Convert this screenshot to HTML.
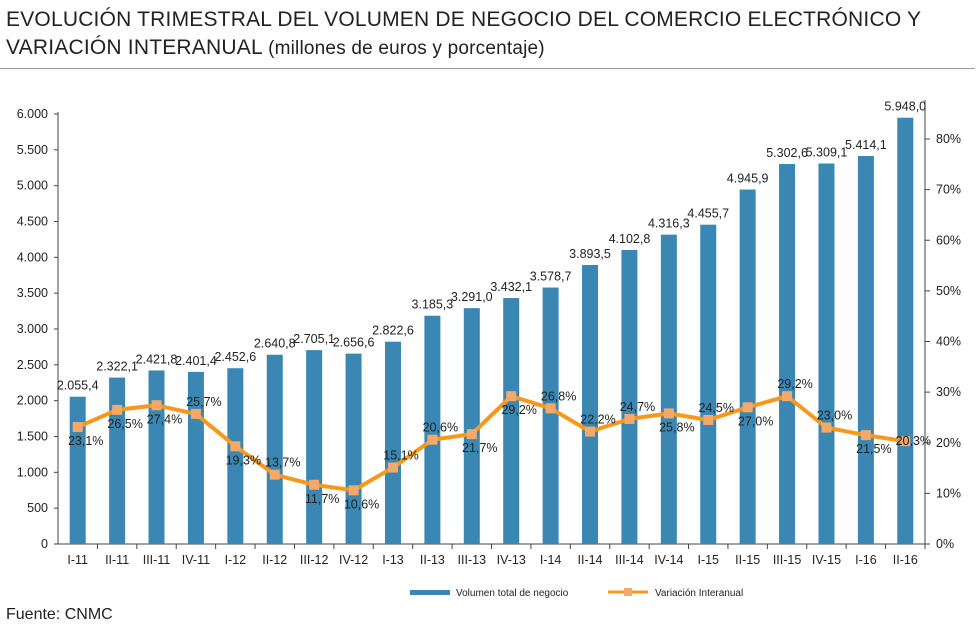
<!DOCTYPE html>
<html><head><meta charset="utf-8"><style>
body{margin:0;background:#fff;font-family:"Liberation Sans",Arial,sans-serif;}
#wrap{position:relative;width:980px;height:631px;overflow:hidden}
.title{position:absolute;left:6px;top:6px;font-size:21px;line-height:28px;color:#222;letter-spacing:0.2px}
.rule{position:absolute;left:0;top:68px;width:975px;height:1px;background:#999}
.src{position:absolute;left:6px;top:606px;font-size:16px;color:#222}
svg text{font-family:"Liberation Sans",Arial,sans-serif}
</style></head><body><div id="wrap">
<div class="title">EVOLUCIÓN TRIMESTRAL DEL VOLUMEN DE NEGOCIO DEL COMERCIO ELECTRÓNICO Y<br>VARIACIÓN INTERANUAL <span style="font-size:19px">(millones de euros y porcentaje)</span></div>
<div class="rule"></div>
<svg id="chart" width="980" height="631" style="position:absolute;left:0;top:0"></svg>
<div class="src">Fuente: CNMC</div>
</div>
<script>
const categories=["I-11","II-11","III-11","IV-11","I-12","II-12","III-12","IV-12","I-13","II-13","III-13","IV-13","I-14","II-14","III-14","IV-14","I-15","II-15","III-15","IV-15","I-16","II-16"];
const volume=[2055.4,2322.1,2421.8,2401.4,2452.6,2640.8,2705.1,2656.6,2822.6,3185.3,3291.0,3432.1,3578.7,3893.5,4102.8,4316.3,4455.7,4945.9,5302.6,5309.1,5414.1,5948.0];
const variation=[23.1,26.5,27.4,25.7,19.3,13.7,11.7,10.6,15.1,20.6,21.7,29.2,26.8,22.2,24.7,25.8,24.5,27.0,29.2,23.0,21.5,20.3];
const leftTicks=[0,500,1000,1500,2000,2500,3000,3500,4000,4500,5000,5500,6000];
const rightTicks=[0,10,20,30,40,50,60,70,80];
const svg=document.getElementById('chart');const NS='http://www.w3.org/2000/svg';
const X0=58,X1=925,Y0=544,YT=114;
const step=(X1-X0)/categories.length;
const xc=i=>X0+step*(i+0.5);
const yL=v=>Y0-(v/6000)*(Y0-YT);
const yR=v=>Y0-v*(Y0-139)/80;
const fmt=(v,d)=>{let s=v.toFixed(d).replace('.',',');let [a,b]=s.split(',');a=a.replace(/\B(?=(\d{3})+(?!\d))/g,'.');return b!==undefined?a+','+b:a;};
function mk(t,a,txt){const e=document.createElementNS(NS,t);for(const k in a)e.setAttribute(k,a[k]);if(txt!==undefined)e.textContent=txt;svg.appendChild(e);return e;}
// axes
let e=mk('line',{x1:X0,y1:YT-2,x2:X0,y2:Y0,stroke:'#444'});

e=mk('line',{x1:X1,y1:100,x2:X1,y2:Y0,stroke:'#444'});

e=mk('line',{x1:X0,y1:Y0,x2:X1,y2:Y0,stroke:'#444'});

leftTicks.forEach(v=>{mk('line',{x1:X0-4,x2:X0,y1:yL(v),y2:yL(v),stroke:'#444'});
 e=mk('text',{x:X0-10,y:yL(v)+4,'text-anchor':'end','font-size':12.5,fill:'#222'},fmt(v,0));
 });
rightTicks.forEach(v=>{mk('line',{x1:X1,x2:X1+5,y1:yR(v),y2:yR(v),stroke:'#444'});
 e=mk('text',{x:X1+11,y:yR(v)+4,'font-size':12.5,fill:'#222'},v+'%');
 });
categories.forEach((c,i)=>{mk('line',{x1:X0+step*(i+1),x2:X0+step*(i+1),y1:Y0,y2:Y0+5,stroke:'#444'});
 e=mk('text',{x:xc(i),y:Y0+20,'text-anchor':'middle','font-size':12.5,fill:'#222'},c);
 });
// bars
volume.forEach((v,i)=>{e=mk('rect',{x:xc(i)-8,y:yL(v),width:16,height:Y0-yL(v),fill:'#3a87b3'});
 
 e=mk('text',{x:xc(i),y:yL(v)-7,'text-anchor':'middle','font-size':12.5,fill:'#222'},fmt(v,1));
 });
// line
const pts=variation.map((v,i)=>[xc(i),yR(v)]);
e=mk('polyline',{points:pts.map(p=>p.join(',')).join(' '),fill:'none',stroke:'#f7981d','stroke-width':4,'stroke-linejoin':'round'});

const below=[1,1,1,0,1,0,1,1,0,0,1,1,0,0,0,1,0,1,0,0,1,2];
variation.forEach((v,i)=>{const [x,y]=pts[i];
 e=mk('rect',{x:x-5,y:y-5,width:10,height:10,fill:'#f4a96a'});
 
 const b=below[i];const ly=b===1?y+18:(b===2?y+4:y-8);
 e=mk('text',{x:x+8,y:ly,'text-anchor':'middle','font-size':12.5,fill:'#222'},fmt(v,1)+'%');
 });
// legend
e=mk('rect',{x:410,y:590,width:40,height:5,fill:'#3a87b3'});

e=mk('text',{x:456,y:596,'font-size':10,fill:'#222'},'Volumen total de negocio');

e=mk('line',{x1:608,x2:648,y1:592,y2:592,stroke:'#f7981d','stroke-width':3});

mk('rect',{x:624,y:588,width:8,height:8,fill:'#f4a96a'});
e=mk('text',{x:655,y:596,'font-size':10,fill:'#222'},'Variación Interanual');

</script></body></html>
